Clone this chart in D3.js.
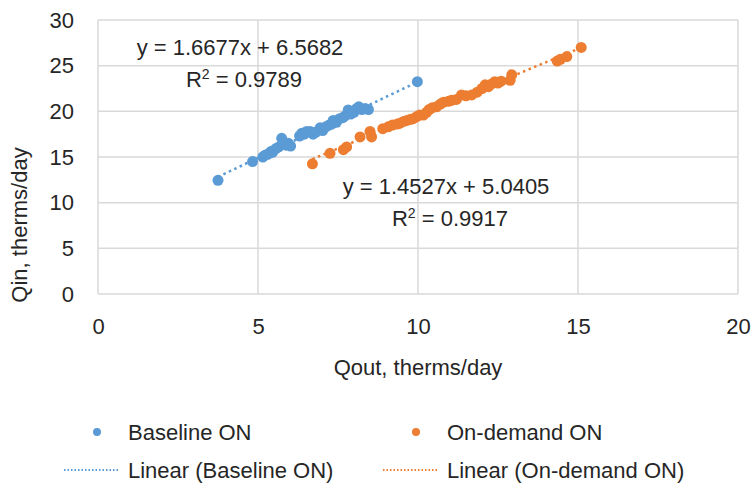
<!DOCTYPE html>
<html>
<head>
<meta charset="utf-8">
<script src="https://cdn.jsdelivr.net/npm/d3@7"></script>
<style>
  body { margin: 0; background: #fff; }
  text { font-family: "Liberation Sans", Arial, sans-serif; fill: #262626; }
</style>
</head>
<body>
<div id="chart"></div>
<script>
var svgWidth = 752;
var svgHeight = 489;

var margin = { top: 20, right: 14, bottom: 195, left: 98 };
var width = svgWidth - margin.left - margin.right;
var height = svgHeight - margin.top - margin.bottom;

// Baseline ON points (Qout, Qin)
var baseX = [3.75, 4.83, 5.15, 5.22, 5.3, 5.4, 5.45, 5.55, 5.65, 5.74, 5.8, 5.88, 5.95, 6.02,
  6.3, 6.37, 6.45, 6.52, 6.63, 6.72, 6.8, 6.94, 7.02, 7.12, 7.22, 7.3, 7.35, 7.45, 7.55,
  7.65, 7.72, 7.82, 7.9, 8.0, 8.08, 8.15, 8.25, 8.35, 8.45, 9.98];
var baseY = [12.45, 14.5, 15.0, 15.2, 15.3, 15.6, 15.5, 15.9, 16.1, 17.05, 16.6, 16.3, 16.5, 16.2,
  17.3, 17.6, 17.5, 17.8, 17.8, 17.5, 17.7, 18.2, 17.9, 18.3, 18.5, 18.6, 19.0, 18.8, 19.2,
  19.3, 19.5, 20.15, 19.7, 19.9, 20.3, 20.5, 20.2, 20.3, 20.2, 23.25];

// On-demand ON points (Qout, Qin)
var demX = [6.7, 7.25, 7.67, 7.77, 8.19, 8.5, 8.55, 8.9, 9.07, 9.2, 9.35, 9.44, 9.55, 9.65,
  9.75, 9.85, 9.95, 10.05, 10.17, 10.27, 10.35, 10.45, 10.58, 10.7, 10.8, 10.95, 11.05, 11.2,
  11.36, 11.5, 11.68, 11.85, 12.0, 12.1, 12.2, 12.3, 12.4, 12.5, 12.6, 12.88, 12.93,
  14.35, 14.45, 14.65, 15.1];
var demY = [14.25, 15.4, 15.8, 16.1, 17.2, 17.8, 17.2, 18.1, 18.3, 18.5, 18.6, 18.7, 18.9, 19.0,
  19.1, 19.2, 19.4, 19.6, 19.6, 19.9, 20.2, 20.4, 20.5, 20.8, 21.0, 21.1, 21.2, 21.3,
  21.8, 21.7, 21.8, 22.1, 22.5, 22.9, 22.7, 23.0, 23.25, 23.1, 23.3, 23.4, 24.0,
  25.5, 25.7, 26.0, 27.0];

// trendline coefficients shown on the chart
var baseFit = { slope: 1.6677, intercept: 6.5682, r2: "0.9789" };
var demFit = { slope: 1.4527, intercept: 5.0405, r2: "0.9917" };

var xTicks = [0, 5, 10, 15, 20];
var yTicks = [0, 5, 10, 15, 20, 25, 30];

var blue = "#5b9bd5";
var orange = "#ed7d31";

var svg = d3.select("#chart")
  .append("svg")
  .attr("width", svgWidth)
  .attr("height", svgHeight);

var chartGroup = svg.append("g")
  .attr("transform", `translate(${margin.left}, ${margin.top})`);

var xScale = d3.scaleLinear().domain([0, 20]).range([0, width]);
var yScale = d3.scaleLinear().domain([0, 30]).range([height, 0]);

// gridlines
chartGroup.selectAll(".vgrid")
  .data(xTicks)
  .enter()
  .append("line")
  .attr("x1", d => xScale(d))
  .attr("x2", d => xScale(d))
  .attr("y1", 0)
  .attr("y2", height)
  .attr("stroke", "#d9d9d9")
  .attr("stroke-width", 1.5);

chartGroup.selectAll(".hgrid")
  .data(yTicks)
  .enter()
  .append("line")
  .attr("x1", 0)
  .attr("x2", width)
  .attr("y1", d => yScale(d))
  .attr("y2", d => yScale(d))
  .attr("stroke", "#d9d9d9")
  .attr("stroke-width", 1.5);

// axes (labels only)
var bottomAxis = d3.axisBottom(xScale).tickValues(xTicks).tickSize(0).tickPadding(24);
var leftAxis = d3.axisLeft(yScale).tickValues(yTicks).tickSize(0).tickPadding(24);

var xAxis = chartGroup.append("g")
  .attr("transform", `translate(0, ${height})`)
  .call(bottomAxis);
var yAxis = chartGroup.append("g").call(leftAxis);

[xAxis, yAxis].forEach(function(ax) {
  ax.select(".domain").remove();
  ax.selectAll("text")
    .style("font-size", "22px")
    .style("font-family", "'Liberation Sans', Arial, sans-serif")
    .attr("fill", "#262626");
});

// trendlines
function drawTrend(xs, fit, color) {
  var x0 = d3.min(xs), x1 = d3.max(xs);
  chartGroup.append("line")
    .attr("x1", xScale(x0))
    .attr("y1", yScale(fit.slope * x0 + fit.intercept))
    .attr("x2", xScale(x1))
    .attr("y2", yScale(fit.slope * x1 + fit.intercept))
    .attr("stroke", color)
    .attr("stroke-width", 2.5)
    .attr("stroke-dasharray", "2.5,3.5");
}
drawTrend(baseX, baseFit, blue);
drawTrend(demX, demFit, orange);

// points
function drawPoints(xs, ys, color) {
  chartGroup.append("g")
    .selectAll("circle")
    .data(d3.range(xs.length))
    .enter()
    .append("circle")
    .attr("cx", i => xScale(xs[i]))
    .attr("cy", i => yScale(ys[i]))
    .attr("r", 5.5)
    .attr("fill", color);
}
drawPoints(baseX, baseY, blue);
drawPoints(demX, demY, orange);

// equation labels
function eqLabel(fit, cx, cy) {
  var sign = fit.intercept >= 0 ? "+" : "-";
  svg.append("text")
    .attr("x", cx)
    .attr("y", cy)
    .attr("text-anchor", "middle")
    .style("font-size", "22px")
    .text(`y = ${fit.slope}x ${sign} ${Math.abs(fit.intercept)}`);
  var r = svg.append("text")
    .attr("x", cx + 4)
    .attr("y", cy + 32)
    .attr("text-anchor", "middle")
    .style("font-size", "22px");
  r.append("tspan").text("R");
  r.append("tspan").attr("dy", -8).style("font-size", "14px").text("2");
  r.append("tspan").attr("dy", 8).text(" = " + fit.r2);
}
eqLabel(baseFit, 240, 55);
eqLabel(demFit, 446, 194);

// axis titles
svg.append("text")
  .attr("x", margin.left + width / 2)
  .attr("y", 375)
  .attr("text-anchor", "middle")
  .style("font-size", "22px")
  .text("Qout, therms/day");

svg.append("text")
  .attr("transform", "translate(27, 225) rotate(-90)")
  .attr("text-anchor", "middle")
  .style("font-size", "22px")
  .text("Qin, therms/day");

// legend
var legend = svg.append("g");
var legendItems = [
  { type: "dot", color: blue, label: "Baseline ON", x: 97, y: 432 },
  { type: "dot", color: orange, label: "On-demand ON", x: 416, y: 432 },
  { type: "line", color: blue, label: "Linear (Baseline ON)", x: 97, y: 470 },
  { type: "line", color: orange, label: "Linear (On-demand ON)", x: 416, y: 470 }
];
legendItems.forEach(function(d) {
  if (d.type === "dot") {
    legend.append("circle")
      .attr("cx", d.x)
      .attr("cy", d.y)
      .attr("r", 4)
      .attr("fill", d.color);
  } else {
    legend.append("line")
      .attr("x1", d.x - 33)
      .attr("x2", d.x + 23)
      .attr("y1", d.y)
      .attr("y2", d.y)
      .attr("stroke", d.color)
      .attr("stroke-width", 2)
      .attr("stroke-dasharray", "1.5,2");
  }
  legend.append("text")
    .attr("x", d.x + 31)
    .attr("y", d.y + 8)
    .style("font-size", "22px")
    .text(d.label);
});
</script>
</body>
</html>
